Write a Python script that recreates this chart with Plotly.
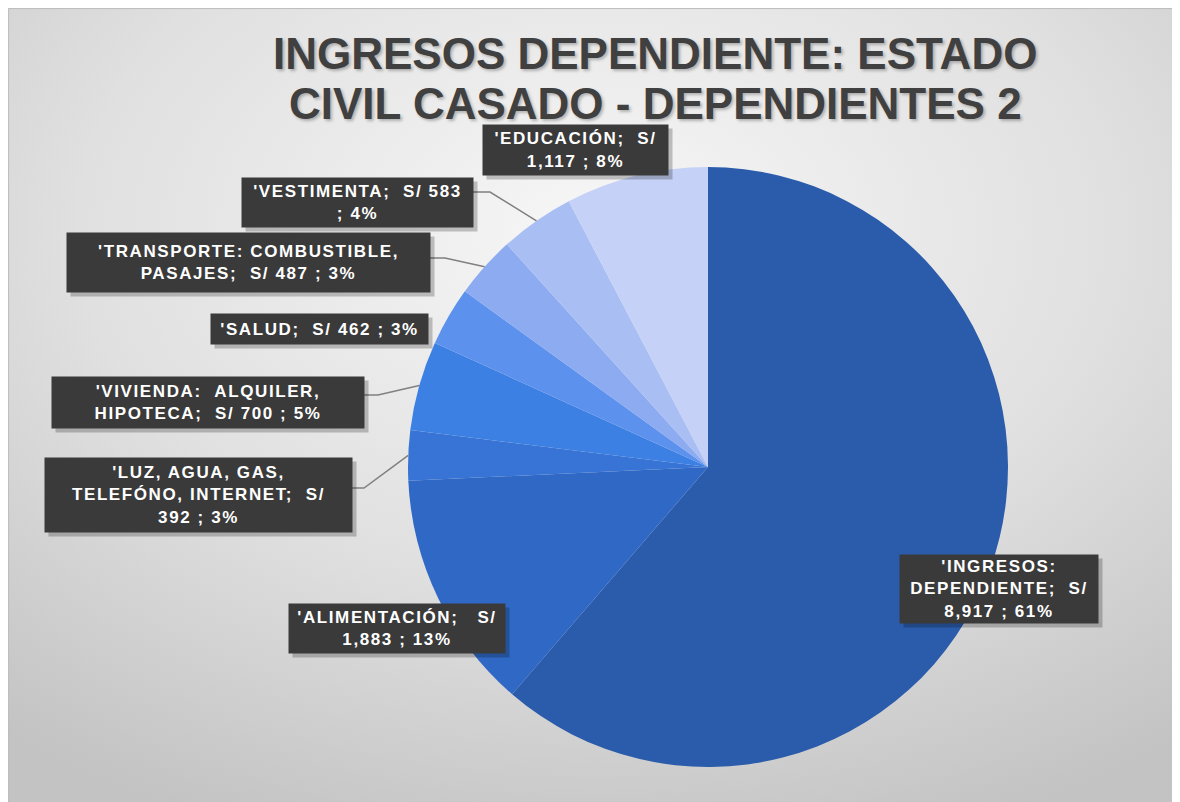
import base64
import math
import plotly.graph_objects as go

# ---------------- data ----------------
categories = [
    "INGRESOS: DEPENDIENTE",
    "ALIMENTACIÓN",
    "LUZ, AGUA, GAS, TELEFÓNO, INTERNET",
    "VIVIENDA: ALQUILER, HIPOTECA",
    "SALUD",
    "TRANSPORTE: COMBUSTIBLE, PASAJES",
    "VESTIMENTA",
    "EDUCACIÓN",
]
values = [8917, 1883, 392, 700, 462, 487, 583, 1117]
colors = ["#2B5CAB", "#3068C5", "#3874D6", "#3D80E4",
          "#5C91EE", "#8DABF1", "#A9BFF4", "#C5D1F7"]

NB = "\u00a0"
total = sum(values)
pcts = [round(v / total * 100) for v in values]
label_lines = [
    ["'INGRESOS:", f"DEPENDIENTE;{NB*2}S/", f"{values[0]:,} ; {pcts[0]}%"],
    [f"'ALIMENTACIÓN;{NB*3}S/", f"{values[1]:,} ; {pcts[1]}%"],
    ["'LUZ, AGUA, GAS,", f"TELEFÓNO, INTERNET;{NB*2}S/", f"{values[2]:,} ; {pcts[2]}%"],
    [f"'VIVIENDA:{NB*2}ALQUILER,", f"HIPOTECA;{NB*2}S/ {values[3]:,} ; {pcts[3]}%"],
    [f"'SALUD;{NB*2}S/ {values[4]:,} ; {pcts[4]}%"],
    ["'TRANSPORTE: COMBUSTIBLE,", f"PASAJES;{NB*2}S/ {values[5]:,} ; {pcts[5]}%"],
    [f"'VESTIMENTA;{NB*2}S/ {values[6]:,}", f"; {pcts[6]}%"],
    [f"'EDUCACIÓN;{NB*2}S/", f"{values[7]:,} ; {pcts[7]}%"],
]
title_lines = ["INGRESOS DEPENDIENTE: ESTADO", "CIVIL CASADO - DEPENDIENTES 2"]

# ---------------- layout geometry (page pixels) ----------------
W, H = 1180, 802
OFF = 8  # page body margin
CX, CY, R = 708, 467, 300
boxes = [
    (900, 555, 1098, 623),
    (289, 604, 505, 653),
    (45, 458, 352, 532),
    (52, 377, 364, 428),
    (211, 314, 428, 344),
    (67, 233, 430, 292),
    (242, 178, 473, 227),
    (483, 125, 668, 175),
]
leaders = [None, None, ((352, 488), 364), ((364, 395), 378), None,
           ((430, 258), 445), ((473, 192), 490), None]


def px(x):
    return (x - OFF) / W


def py(y):
    return 1 - (y - OFF) / H


fig = go.Figure()
fig.add_trace(go.Pie(
    labels=categories, values=values, sort=False, direction="clockwise",
    rotation=0, marker=dict(colors=colors, line=dict(width=0)),
    textinfo="none", hoverinfo="skip", showlegend=False,
    domain=dict(x=[px(CX - R), px(CX + R)], y=[py(CY + R), py(CY - R)]),
))

svg = (f'<svg xmlns="http://www.w3.org/2000/svg" width="1180" height="802">'
       '<defs><radialGradient id="g" cx="0.5" cy="0.28" r="0.8">'
       '<stop offset="0" stop-color="#f7f7f7"/>'
       '<stop offset="0.55" stop-color="#e0e0e0"/>'
       '<stop offset="1" stop-color="#c3c3c3"/>'
       '</radialGradient></defs>'
       '<rect width="1180" height="802" fill="url(#g)"/></svg>')
src = "data:image/svg+xml;base64," + base64.b64encode(svg.encode()).decode()

shapes = [dict(type="rect", xref="paper", yref="paper", x0=0.0005, x1=1.2,
               y0=-0.2, y1=0.9993, line=dict(color="#bdbdbd", width=1),
               layer="below")]

cum = 0
for i, v in enumerate(values):
    mid = (cum + v / 2) / total
    cum += v
    if leaders[i] is None:
        continue
    theta = 2 * math.pi * mid
    ex = CX + R * math.sin(theta)
    ey = CY - R * math.cos(theta)
    (bx, by), elx = leaders[i]
    path = f"M {px(bx)},{py(by)} L {px(elx)},{py(by)} L {px(ex)},{py(ey)}"
    shapes.append(dict(type="path", xref="paper", yref="paper", path=path,
                       line=dict(color="#808080", width=1.5)))

annotations = []
PAD = 3
for lines, (x0, y0, x1, y1) in zip(label_lines, boxes):
    txt = "<br>".join(
        f"<span style='letter-spacing:1.6px'>{ln}</span>" for ln in lines)
    cxb, cyb = (x0 + x1) / 2, (y0 + y1) / 2
    common = dict(xref="paper", yref="paper", x=px(cxb), y=py(cyb),
                  xanchor="center", yanchor="middle", showarrow=False,
                  width=x1 - x0 - 2 * PAD, height=y1 - y0 - 2 * PAD,
                  borderpad=PAD, align="center", valign="middle")
    annotations.append(dict(text=NB, bgcolor="rgba(0,0,0,0.22)",
                            xshift=4, yshift=-4, **common))
    annotations.append(dict(text=txt, bgcolor="#3a3a3a",
                            font=dict(family="Arial, Liberation Sans",
                                      size=17, color="white", weight="bold"),
                            **common))

for j, line in enumerate(title_lines):
    annotations.append(dict(
        text=line, xref="paper", yref="paper", x=px(655),
        y=py(54 + 49 * j), xanchor="center", yanchor="middle",
        showarrow=False,
        font=dict(family="Arial, Liberation Sans", size=44, color="#404040",
                  weight="bold", shadow="2px 2px 3px rgba(0,0,0,0.25)")))

fig.update_layout(
    width=W, height=H, margin=dict(l=0, r=0, t=0, b=0),
    paper_bgcolor="white", plot_bgcolor="rgba(0,0,0,0)",
    images=[dict(source=src, xref="paper", yref="paper", x=0, y=1,
                 sizex=1, sizey=1, xanchor="left", yanchor="top",
                 sizing="stretch", layer="below")],
    shapes=shapes, annotations=annotations,
)

fig.write_html("out.html")
